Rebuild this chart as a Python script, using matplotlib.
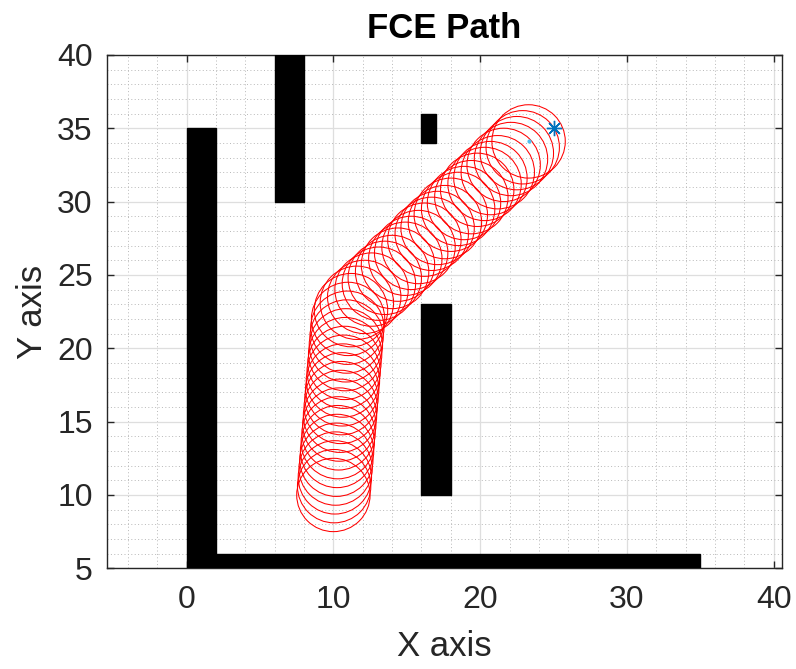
import matplotlib
matplotlib.use("Agg")
import matplotlib.pyplot as plt
from matplotlib.patches import Rectangle, Circle
from matplotlib.ticker import MultipleLocator

# obstacles: lower-left corner, width, height
obs_x = [0, 2, 6, 16, 16]
obs_y = [5, 5, 30, 34, 10]
obs_w = [2, 33, 2, 1, 2]
obs_h = [30, 1, 10, 2, 13]

# robot positions along the path
path_x = [10.0, 10.05, 10.1, 10.15, 10.2, 10.25, 10.3, 10.35, 10.4, 10.45, 10.5,
          10.55, 10.6, 10.65, 10.7, 10.75, 10.8, 10.85, 10.9, 10.95, 11.0,
          11.2, 11.6, 12.1,
          12.6, 13.1, 13.5, 14.0, 14.4, 14.9, 15.3, 15.8, 16.2, 16.7, 17.1, 17.6,
          18.0, 18.5, 18.9, 19.4, 19.8, 20.3, 20.7, 21.2, 21.6, 22.1, 22.5, 22.9, 23.3]
path_y = [10.0, 10.6, 11.2, 11.8, 12.4, 13.0, 13.6, 14.2, 14.8, 15.4, 16.0,
          16.6, 17.2, 17.8, 18.4, 19.0, 19.6, 20.2, 20.8, 21.4, 22.0,
          22.6, 23.1, 23.5,
          24.0, 24.4, 24.8, 25.2, 25.7, 26.1, 26.5, 26.9, 27.4, 27.8, 28.2, 28.6,
          29.1, 29.5, 29.9, 30.3, 30.8, 31.2, 31.6, 32.0, 32.5, 32.9, 33.3, 33.7, 34.1]
radius = 2.5
goal = (25, 35)

plt.rcParams['font.family'] = ['Liberation Sans', 'DejaVu Sans']

fig = plt.figure(figsize=(7.96, 6.69), dpi=100)
ax = fig.add_axes([0.134, 0.1505, 0.849, 0.7675])

for x, y, w, h in zip(obs_x, obs_y, obs_w, obs_h):
    ax.add_patch(Rectangle((x, y), w, h, facecolor='black', edgecolor='black', zorder=3))

for x, y in zip(path_x, path_y):
    ax.add_patch(Circle((x, y), radius, fill=False, edgecolor='red', linewidth=0.75, zorder=4))

ax.plot(path_x[-1], path_y[-1], '.', color='#4dbeee', markersize=4, zorder=5)
ax.plot(goal[0], goal[1], marker=(8, 2, 0), color='#0072bd', markersize=11,
        markeredgewidth=1.0, zorder=5)

ax.set_xlim(-5.45, 40.6)
ax.set_ylim(5, 40)

ax.xaxis.set_major_locator(MultipleLocator(10))
ax.xaxis.set_minor_locator(MultipleLocator(2))
ax.yaxis.set_major_locator(MultipleLocator(5))
ax.yaxis.set_minor_locator(MultipleLocator(1))

ax.grid(True, which='major', color='#dedede', linewidth=0.9, zorder=0)
ax.grid(True, which='minor', color='#b8b8b8', linestyle=(0, (1, 2.5)), linewidth=0.7, zorder=0)
ax.set_axisbelow(True)

ax.tick_params(which='major', direction='in', length=5, width=1, top=True, right=True,
               labelsize=23, colors='#262626')
ax.tick_params(axis='x', pad=12)
ax.tick_params(axis='y', pad=10)
ax.tick_params(which='minor', length=0)
for s in ax.spines.values():
    s.set_color('#262626')
    s.set_linewidth(1)

ax.set_xlabel('X axis', fontsize=25, color='#262626', labelpad=11)
ax.set_ylabel('Y axis', fontsize=25, color='#262626', labelpad=6)
ax.set_title('FCE Path', fontsize=25, fontweight='bold', pad=12)

fig.savefig('out.png', dpi=100)
